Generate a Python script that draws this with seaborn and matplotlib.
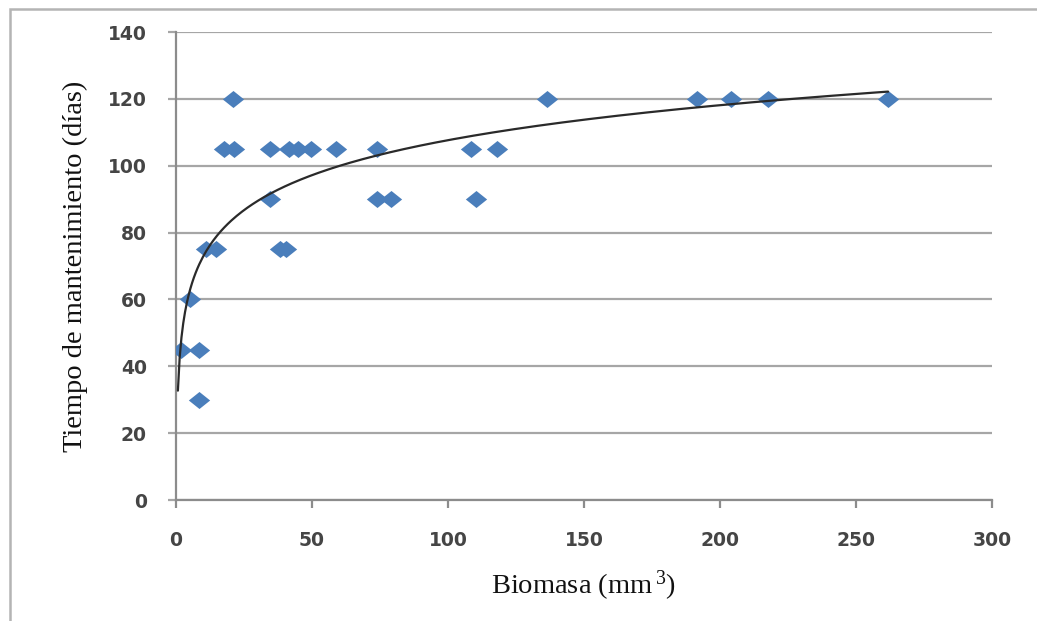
import numpy as np
import pandas as pd
import matplotlib
matplotlib.use("Agg")
import matplotlib.pyplot as plt
import seaborn as sns
from matplotlib.path import Path
from matplotlib.markers import MarkerStyle
from matplotlib.patches import Rectangle

# ---- data ----
biomasa = [1.8, 5.1, 8.5, 8.5, 11.0, 14.7, 17.6, 21.3, 21.0, 34.6, 34.6, 38.2,
           40.4, 41.5, 44.9, 49.6, 58.8, 73.9, 73.9, 79.0, 108.5, 110.3, 118.0,
           136.4, 191.5, 204.0, 217.6, 261.8]
tiempo = [45, 60, 45, 30, 75, 75, 105, 105, 120, 105, 90, 75,
          75, 105, 105, 105, 105, 105, 90, 90, 105, 90, 105,
          120, 120, 120, 120, 120]
# logarithmic trendline y = a*ln(x) + b
trend_a = 15.1
trend_b = 38.1
trend_start = 0.7

x_ticks = [0, 50, 100, 150, 200, 250, 300]
y_ticks = [0, 20, 40, 60, 80, 100, 120, 140]
x_label = r"Biomasa (mm$\,^{3}$)"
y_label = "Tiempo de mantenimiento (días)"

df = pd.DataFrame({"Biomasa": biomasa, "Tiempo": tiempo})

sns.set_theme(style="white")
plt.rcParams["font.family"] = ["DejaVu Sans"]
plt.rcParams["mathtext.fontset"] = "custom"
plt.rcParams["mathtext.rm"] = "Liberation Serif"
plt.rcParams["mathtext.it"] = "Liberation Serif:italic"

W, H = 1037, 621
fig = plt.figure(figsize=(W / 100, H / 100), dpi=100)
ax = fig.add_axes([176 / W, 1 - 500 / H, (992 - 176) / W, (500 - 32) / H])

grid_c = "#a6a6a6"
axis_c = "#8c8c8c"
blue = "#4a7ebb"

# trendline
tx = np.linspace(trend_start, max(biomasa), 400)
ty = trend_a * np.log(tx) + trend_b
trend_df = pd.DataFrame({"x": tx, "y": ty})
sns.lineplot(data=trend_df, x="x", y="y", ax=ax, color="#2a2a2a", lw=1.6,
             sort=False, zorder=4)

# diamond markers (a bit wider than tall)
diamond = MarkerStyle(Path([(-1, 0), (0, 0.8), (1, 0), (0, -0.8), (-1, 0)],
                           [Path.MOVETO, Path.LINETO, Path.LINETO, Path.LINETO,
                            Path.CLOSEPOLY]))
sns.scatterplot(data=df, x="Biomasa", y="Tiempo", ax=ax, marker=diamond,
                s=235, color=blue, edgecolor=blue, linewidth=0, zorder=3)

ax.set_xlim(0, 300)
ax.set_ylim(0, 140)
ax.set_xticks(x_ticks)
ax.set_yticks(y_ticks)
ax.set_xticklabels([str(v) for v in x_ticks])
ax.set_yticklabels([str(v) for v in y_ticks])

ax.yaxis.grid(True, color=grid_c, lw=1.6, zorder=0)
ax.xaxis.grid(False)
ax.set_axisbelow(True)

for s in ["top", "right"]:
    ax.spines[s].set_visible(False)
for s in ["left", "bottom"]:
    ax.spines[s].set_visible(True)
    ax.spines[s].set_color(axis_c)
    ax.spines[s].set_linewidth(1.6)

ax.tick_params(axis="y", which="both", direction="out", length=6, width=1.6,
               color=grid_c, pad=15, labelsize=13.5, labelcolor="#454545",
               left=True)
ax.tick_params(axis="x", which="both", direction="out", length=5.5, width=1.6,
               color=axis_c, pad=17, labelsize=13.5, labelcolor="#454545",
               bottom=True)
for lab in ax.get_xticklabels() + ax.get_yticklabels():
    lab.set_fontweight("semibold")

ax.set_xlabel(x_label, fontsize=20.5, family="Liberation Serif", color="#111111",
              va="center")
ax.set_ylabel(y_label, fontsize=20.5, family="Liberation Serif", color="#111111",
              va="center")
ax.xaxis.set_label_coords(0.5, (500 - 586) / 468)
ax.yaxis.set_label_coords((75 - 176) / 816, 0.5)

# outer chart frame (left and top edges visible)
frame = Rectangle((10 / W, -0.5), 2.0, (1 - 8.5 / H) + 0.5,
                  transform=fig.transFigure, fill=False,
                  edgecolor="#b4b4b4", lw=1.8)
fig.add_artist(frame)

fig.savefig("out.png", dpi=100)
